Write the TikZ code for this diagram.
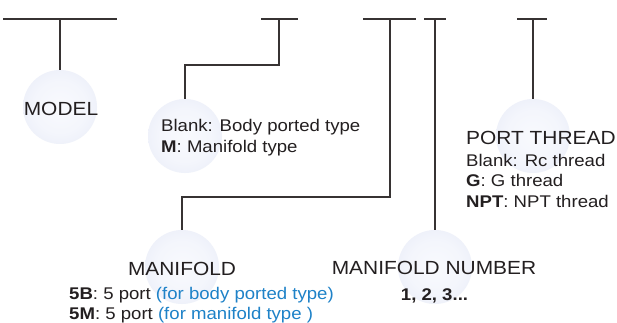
\documentclass[tikz,border=0pt]{standalone}
\usepackage{fontspec}
\setmainfont{Liberation Sans}[FakeStretch=1.1]
\definecolor{ink}{RGB}{35,31,32}
\definecolor{lineC}{RGB}{55,51,51}
\definecolor{blueT}{RGB}{30,130,200}
\pgfdeclareradialshading{bubble}{\pgfpoint{0bp}{0bp}}{rgb(0bp)=(0.975,0.98,0.995); rgb(18bp)=(0.955,0.963,0.988); rgb(38bp)=(0.9,0.915,0.966); rgb(47bp)=(0.89,0.905,0.963); rgb(50bp)=(0.95,0.958,0.985)}
\tikzset{
  bubble/.style={circle, minimum size=74pt, inner sep=0pt, shading=bubble},
  conn/.style={draw=lineC, line width=1.2pt},
  ttl/.style={font=\fontsize{19}{22}\selectfont, text=ink, anchor=base, inner sep=0pt},
  desc/.style={font=\fontsize{16.9}{20}\selectfont, text=ink, anchor=base west, inner sep=0pt}
}
\begin{document}
\begin{tikzpicture}[x=1pt,y=-1pt]
\useasboundingbox (0,0) rectangle (617,323);
\fill[white] (0,0) rectangle (617,323);
% bubbles
\node[bubble] (c1) at (60,107) {};
\node[bubble] (c2) at (185,136) {};
\node[bubble] (c3) at (182,267) {};
\node[bubble] (c4) at (435,267) {};
\node[bubble] (c5) at (533,136) {};
% bars
\coordinate (b1l) at (3,19);   \coordinate (b1r) at (117,19); \coordinate (b1m) at (60,19);
\coordinate (b2l) at (261,19); \coordinate (b2r) at (298,19); \coordinate (b2m) at (279,19);
\coordinate (b3l) at (363,19); \coordinate (b3r) at (416,19); \coordinate (b3m) at (390,19);
\coordinate (b4l) at (424,19); \coordinate (b4r) at (446,19); \coordinate (b4m) at (435,19);
\coordinate (b5l) at (517,19); \coordinate (b5r) at (547,19); \coordinate (b5m) at (533,19);
\foreach \i in {1,...,5} { \draw[conn] (b\i l) -- (b\i r); }
% connectors
\draw[conn] (b1m) -- (c1.north);
\draw[conn] (b2m) -- ++(0,46) -| (c2.north);
\draw[conn] (b3m) -- ++(0,178) -| (c3.north);
\draw[conn] (b4m) -- (c4.north);
\draw[conn] (b5m) -- (c5.north);
% titles
\node[ttl] (t1) at (61,116) {MODEL};
\node[ttl] (t3) at (182,275.5) {MANIFOLD};
\node[ttl] (t4) at (434,274.5) {MANIFOLD NUMBER};
\node[ttl, anchor=base west] (t5) at (466,144) {PORT THREAD};
% descriptions
\node[desc] (d2a) at (161,131.5) {Blank: Body ported type};
\node[desc] (d2b) at (161,152.7) {\textbf{M}: Manifold type};
\node[desc] (d5a) at (466,166) {Blank: Rc thread};
\node[desc] (d5b) at (466,186.7) {\textbf{G}: G thread};
\node[desc] (d5c) at (466,207.7) {\textbf{NPT}: NPT thread};
\node[desc] (d3a) at (69,299) {\textbf{5B}: 5 port \textcolor{blueT}{(for body ported type)}};
\node[desc] (d3b) at (69,319) {\textbf{5M}: 5 port \textcolor{blueT}{(for manifold type )}};
\node[desc, anchor=base] (d4) at (434.5,300) {\textbf{1, 2, 3...}};
\end{tikzpicture}
\end{document}
